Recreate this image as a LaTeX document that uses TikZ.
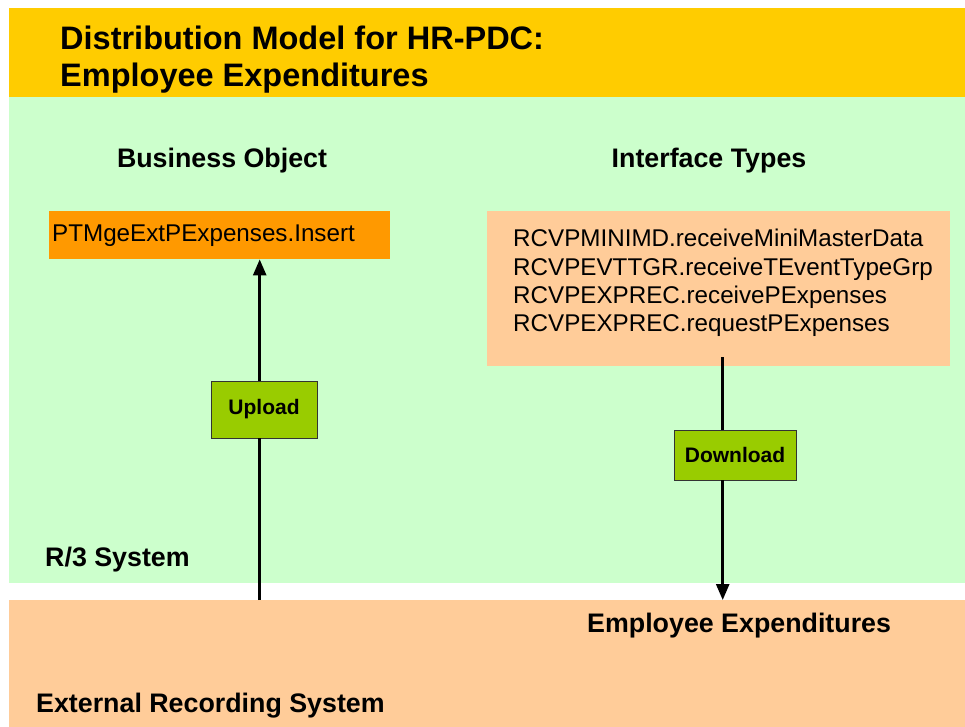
\documentclass[tikz,border=0pt]{standalone}
\usepackage{fontspec}
\setmainfont{Liberation Sans}
\usepackage{xcolor}
\usetikzlibrary{positioning}
\usetikzlibrary{arrows.meta}
\usetikzlibrary{calc}

\definecolor{titlebg}{HTML}{FFCC00}
\definecolor{sysbg}{HTML}{CCFFCC}
\definecolor{extbg}{HTML}{FFCC99}
\definecolor{boxorange}{HTML}{FF9900}
\definecolor{btngreen}{HTML}{99CC00}

\begin{document}
\begin{tikzpicture}[x=1pt, y=-1pt,
  band/.style={anchor=north west, inner sep=0pt, minimum width=956pt},
  heading/.style={inner sep=0pt, font=\fontsize{26.8}{30}\selectfont\bfseries},
  body/.style={inner sep=0pt, font=\fontsize{24.2}{28.3}\selectfont},
  btn/.style={draw=black!80, line width=0.8pt, fill=btngreen, inner sep=0pt, font=\fontsize{21}{24}\selectfont\bfseries},
  link/.style={line width=2.6pt},
  arrow/.style={line width=2.6pt, -{Triangle[length=16pt, width=13pt]}}
]
\useasboundingbox (0,0) rectangle (965,727);

% background bands
\node[band, fill=titlebg, minimum height=89pt] (title) at (9,8) {};
\node[band, fill=sysbg, minimum height=486pt] (sys) at (9,97) {};
\node[band, fill=extbg, minimum height=127pt] (ext) at (9,600) {};

\node[anchor=base west, inner sep=0pt, align=left, font=\fontsize{32.5}{37}\selectfont\bfseries] (titletext) at (60,87)
  {Distribution Model for HR-PDC:\\Employee Expenditures};

\node[heading, anchor=base] (bohead) at (222,168) {Business Object};
\node[heading, anchor=base] (ifhead) at (709,168) {Interface Types};

% boxes
\node[body, fill=boxorange, anchor=north west, minimum width=341pt, minimum height=48pt,
  text width=335pt, align=left] (insert) at (49,211) {PTMgeExtPExpenses.Insert};

\node[fill=extbg, anchor=north west, inner sep=0pt, minimum width=463pt, minimum height=155pt] (types) at (487,211) {};
\node[body, anchor=north west, align=left] (typelist) at (513,229)
  {RCVPMINIMD.receiveMiniMasterData\\
   RCVPEVTTGR.receiveTEventTypeGrp\\
   RCVPEXPREC.receivePExpenses\\
   RCVPEXPREC.requestPExpenses};

\node[btn, minimum width=106pt, minimum height=57pt] (upload) at (264,409.5) {Upload};
\node[btn, minimum width=122pt, minimum height=50pt] (download) at (735,455) {Download};

% connectors
\coordinate (upend) at ([xshift=40pt]insert.south);
\draw[link] (upend |- ext.north) -- (upend |- upload.south);
\draw[arrow] (upend |- upload.north) -- (upend);

\coordinate (dltop) at ([shift={(4,-9)}]types.south);
\draw[link] (dltop) -- (dltop |- download.north);
\draw[arrow] (dltop |- download.south) -- (dltop |- ext.north);

\node[heading, anchor=base west] (r3) at (45,566) {R/3 System};
\node[heading, anchor=base west] (expend) at (587,632) {Employee Expenditures};
\node[heading, anchor=base west] (extsys) at (36,712) {External Recording System};

\end{tikzpicture}
\end{document}
